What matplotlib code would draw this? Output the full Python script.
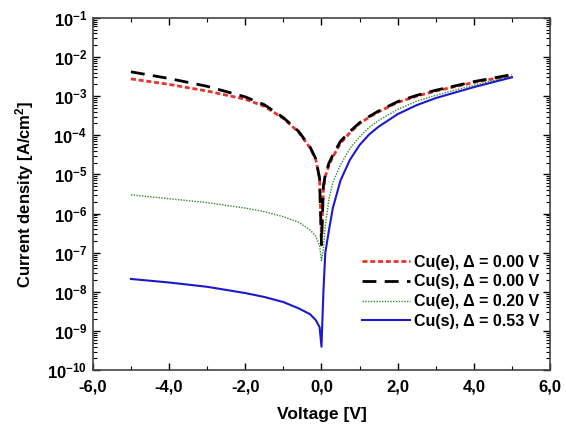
import numpy as np
import matplotlib
matplotlib.use("Agg")
import matplotlib.pyplot as plt
from matplotlib.ticker import FixedLocator, LogLocator, FuncFormatter, NullFormatter

plt.rcParams["font.family"] = ["Liberation Sans", "DejaVu Sans"]
plt.rcParams["font.weight"] = "bold"
plt.rcParams["mathtext.fontset"] = "custom"
plt.rcParams["mathtext.rm"] = "Liberation Sans:bold"
plt.rcParams["mathtext.bf"] = "Liberation Sans:bold"
plt.rcParams["mathtext.it"] = "Liberation Sans:bold"

# voltage grid (V) and log10 of current density (A/cm^2)
v_left = [-5.0, -4.0, -3.0, -2.0, -1.5, -1.0, -0.6, -0.3, -0.15, -0.05, 0.0]
v_right = [0.0, 0.05, 0.1, 0.2, 0.3, 0.5, 0.75, 1.0, 1.25, 1.5, 2.0, 2.5, 3.0, 4.0, 5.0]

red_left = [-2.56, -2.70, -2.87, -3.08, -3.26, -3.57, -3.92, -4.32, -4.62, -5.10, -6.6]
red_right = [-6.6, -5.4, -5.05, -4.75, -4.55, -4.20, -3.93, -3.70, -3.54, -3.40, -3.16, -3.00, -2.87, -2.65, -2.47]

black_left = [-2.38, -2.55, -2.75, -3.02, -3.22, -3.55, -3.90, -4.30, -4.60, -5.10, -6.8]
black_right = [-6.8, -5.3, -5.0, -4.7, -4.5, -4.15, -3.90, -3.68, -3.52, -3.38, -3.14, -2.98, -2.85, -2.63, -2.45]

green_left = [-5.52, -5.62, -5.72, -5.86, -5.95, -6.08, -6.22, -6.42, -6.58, -6.82, -7.2]
green_right = [-7.2, -6.9, -6.3, -5.6, -5.2, -4.75, -4.33, -4.04, -3.80, -3.62, -3.34, -3.13, -2.98, -2.72, -2.50]

blue_left = [-7.67, -7.76, -7.87, -8.03, -8.13, -8.26, -8.42, -8.57, -8.72, -8.90, -9.40]
blue_right = [-9.40, -8.0, -7.0, -6.4, -5.85, -5.15, -4.62, -4.25, -3.98, -3.78, -3.46, -3.23, -3.05, -2.77, -2.52]

labels = ["Cu(e), Δ = 0.00 V", "Cu(s), Δ = 0.00 V",
          "Cu(e), Δ = 0.20 V", "Cu(s), Δ = 0.53 V"]

fig = plt.figure(figsize=(5.66, 4.34), dpi=100)
ax = fig.add_axes([0.164, 0.147, 0.808, 0.812])

def curve(left, right):
    v = np.array(v_left + v_right[1:])
    j = 10 ** np.array(left + right[1:])
    return v, j

v, j = curve(red_left, red_right)
ax.plot(v, j, color="#e8322b", lw=2.0, dashes=(1.8, 1.0), label=labels[0])
v, j = curve(black_left, black_right)
ax.plot(v, j, color="black", lw=2.0, dashes=(5, 3), label=labels[1])
v, j = curve(green_left, green_right)
ax.plot(v, j, color="#2e8b2e", lw=1.0, dashes=(1, 1), label=labels[2])
v, j = curve(blue_left, blue_right)
ax.plot(v, j, color="#1a1acc", lw=1.5, label=labels[3])

ax.set_yscale("log")
ax.set_xlim(-6, 6)
ax.set_ylim(1e-10, 1e-1)
ax.xaxis.set_major_locator(FixedLocator([-6, -4, -2, 0, 2, 4, 6]))
ax.xaxis.set_minor_locator(FixedLocator([-5, -3, -1, 1, 3, 5]))
ax.xaxis.set_major_formatter(FuncFormatter(lambda x, p: f"{x:.1f}".replace(".", ",")))
ax.yaxis.set_major_locator(LogLocator(base=10, numticks=20))
ax.yaxis.set_minor_locator(LogLocator(base=10, subs=np.arange(2, 10), numticks=20))
ax.yaxis.set_minor_formatter(NullFormatter())
ax.yaxis.set_major_formatter(FuncFormatter(lambda y, p: r"$10^{%d}$" % round(np.log10(y))))

ax.tick_params(which="both", direction="in", top=True, right=True)
ax.tick_params(axis="x", labelsize=12, pad=7)
ax.tick_params(axis="y", labelsize=12, pad=4)
ax.tick_params(which="major", length=5, width=1)
ax.tick_params(which="minor", length=3, width=0.8)
for s in ax.spines.values():
    s.set_linewidth(1.2)
    s.set_color("#444444")

ax.set_xlabel("Voltage [V]", fontsize=12.5, fontweight="bold", labelpad=9)
ax.set_ylabel("Current density [A/cm$^2$]", fontsize=12, fontweight="bold", labelpad=8)

ax.legend(loc="lower right", bbox_to_anchor=(1.0, 0.085), frameon=False,
          fontsize=11.5, handlelength=3.0, handletextpad=0.25, labelspacing=0.3,
          borderaxespad=0.3)

fig.savefig("out.png", dpi=100)
